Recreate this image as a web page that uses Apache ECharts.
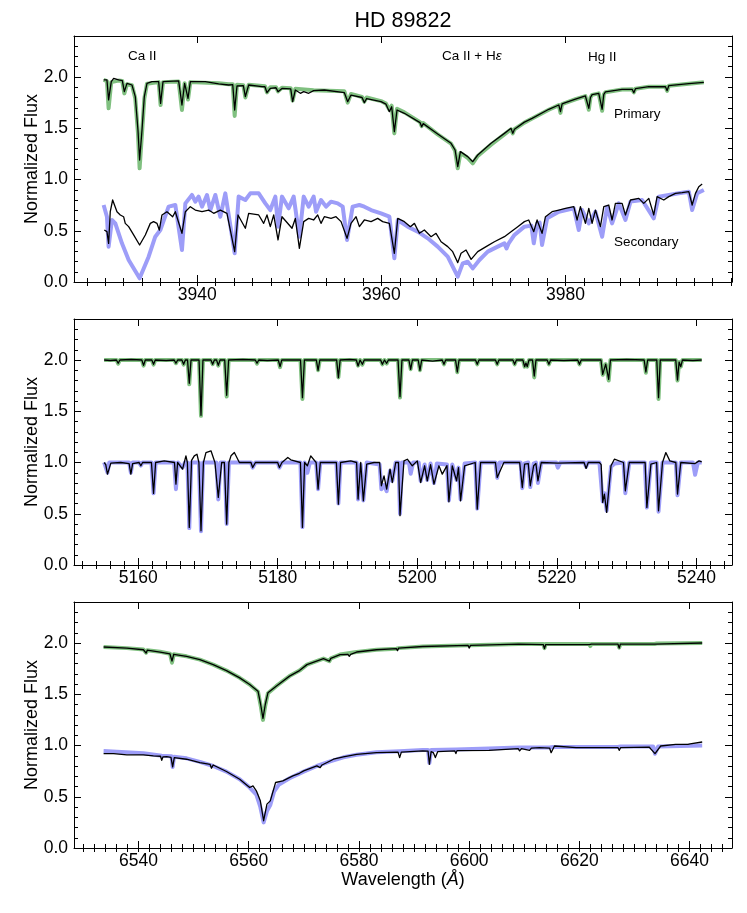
<!DOCTYPE html>
<html>
<head>
<meta charset="utf-8">
<title>HD 89822</title>
<script src="https://cdn.jsdelivr.net/npm/echarts@6/dist/echarts.min.js"></script>
<style>
  html, body { margin: 0; padding: 0; background: #fff; }
  #echarts_box { width: 747px; height: 913px; }
</style>
</head>
<body>
<div id="echarts_box"></div>
<script>
// ---- data: [wavelength (A), normalized flux] ----
// panel 1 : Ca II H & K region
var p1PrimaryModel = [[3929.82,1.971],[3930.18,1.96],[3930.36,1.694],[3930.65,1.95],[3931.45,1.965],[3931.85,1.96],[3932.07,1.84],[3932.36,1.93],[3932.90,1.92],[3933.26,1.79],[3933.55,1.45],[3933.73,1.109],[3933.99,1.45],[3934.24,1.79],[3934.53,1.935],[3935.80,1.95],[3936.01,1.727],[3936.27,1.95],[3937.97,1.955],[3938.33,1.678],[3938.62,1.94],[3938.99,1.78],[3939.24,1.95],[3942.32,1.94],[3943.41,1.93],[3943.85,1.93],[3944.06,1.620],[3944.31,1.925],[3945.0,1.92],[3945.22,1.80],[3945.58,1.925],[3947.35,1.91],[3947.57,1.85],[3947.93,1.90],[3948.55,1.90],[3948.77,1.86],[3949.20,1.895],[3950.15,1.89],[3950.36,1.77],[3950.65,1.885],[3952.64,1.87],[3955.98,1.86],[3956.15,1.86],[3956.34,1.75],[3956.70,1.835],[3957.9,1.805],[3958.15,1.76],[3958.40,1.80],[3959.96,1.765],[3960.5,1.74],[3960.87,1.68],[3961.12,1.72],[3961.41,1.45],[3961.70,1.69],[3962.50,1.655],[3964.2,1.56],[3964.38,1.52],[3964.55,1.55],[3966.12,1.44],[3967.57,1.35],[3968.01,1.28],[3968.30,1.109],[3968.59,1.26],[3969.38,1.21],[3969.93,1.158],[3970.47,1.23],[3971.92,1.34],[3973.37,1.44],[3974.09,1.49],[3974.28,1.45],[3974.46,1.49],[3975.54,1.555],[3976.38,1.595],[3978.19,1.68],[3979.28,1.725],[3979.46,1.65],[3979.64,1.735],[3980.0,1.748],[3981.09,1.783],[3982.17,1.813],[3982.35,1.80],[3982.54,1.68],[3982.72,1.80],[3982.90,1.826],[3983.62,1.84],[3983.80,1.83],[3983.99,1.67],[3984.17,1.83],[3984.35,1.852],[3986.16,1.878],[3987.25,1.88],[3987.43,1.85],[3987.61,1.885],[3989.06,1.905],[3990.87,1.905],[3991.05,1.865],[3991.23,1.914],[3993.41,1.934],[3995.04,1.948]];
var p1PrimaryObs = [[3929.82,1.971],[3930.18,1.971],[3930.36,1.776],[3930.65,1.954],[3930.91,1.987],[3931.45,1.971],[3931.85,1.965],[3932.07,1.857],[3932.36,1.938],[3932.90,1.922],[3933.26,1.808],[3933.55,1.483],[3933.73,1.190],[3933.99,1.483],[3934.24,1.808],[3934.53,1.938],[3935.07,1.954],[3935.80,1.954],[3936.01,1.743],[3936.27,1.954],[3937.97,1.962],[3938.33,1.727],[3938.62,1.938],[3938.99,1.792],[3939.24,1.954],[3940.87,1.954],[3942.32,1.932],[3943.41,1.922],[3943.85,1.925],[3944.06,1.678],[3944.31,1.912],[3945.0,1.915],[3945.22,1.808],[3945.58,1.922],[3947.03,1.906],[3947.35,1.905],[3947.57,1.847],[3947.93,1.889],[3948.55,1.895],[3948.77,1.857],[3949.20,1.889],[3950.15,1.885],[3950.36,1.759],[3950.65,1.873],[3951.20,1.841],[3951.56,1.857],[3952.10,1.841],[3952.64,1.867],[3953.80,1.873],[3955.98,1.847],[3956.15,1.85],[3956.34,1.759],[3956.70,1.824],[3957.9,1.80],[3958.15,1.750],[3958.40,1.79],[3959.96,1.759],[3960.5,1.735],[3960.87,1.662],[3961.12,1.71],[3961.41,1.467],[3961.70,1.678],[3962.50,1.646],[3964.2,1.555],[3964.38,1.515],[3964.55,1.545],[3966.12,1.444],[3967.57,1.353],[3968.01,1.288],[3968.30,1.125],[3968.59,1.272],[3969.38,1.223],[3969.93,1.174],[3970.47,1.239],[3971.92,1.353],[3973.37,1.450],[3974.09,1.499],[3974.28,1.450],[3974.46,1.49],[3975.54,1.56],[3976.38,1.597],[3978.19,1.685],[3979.28,1.727],[3979.46,1.662],[3979.64,1.737],[3980.0,1.750],[3981.09,1.785],[3982.17,1.815],[3982.35,1.80],[3982.54,1.694],[3982.72,1.80],[3982.90,1.828],[3983.62,1.841],[3983.80,1.83],[3983.99,1.685],[3984.17,1.83],[3984.35,1.854],[3986.16,1.880],[3987.25,1.88],[3987.43,1.847],[3987.61,1.886],[3989.06,1.906],[3990.87,1.905],[3991.05,1.867],[3991.23,1.915],[3993.41,1.935],[3995.04,1.948]];
var p1SecondaryModel = [[3929.82,0.751],[3930.18,0.637],[3930.36,0.345],[3930.72,0.605],[3931.09,0.572],[3931.81,0.377],[3932.54,0.215],[3933.73,0.036],[3934.71,0.247],[3935.43,0.442],[3935.98,0.507],[3936.88,0.735],[3937.61,0.751],[3938.33,0.312],[3938.70,0.767],[3939.42,0.849],[3939.78,0.784],[3940.14,0.833],[3940.51,0.735],[3941.05,0.849],[3941.41,0.702],[3941.96,0.849],[3942.50,0.637],[3943.04,0.865],[3944.06,0.280],[3944.49,0.833],[3945.22,0.800],[3945.76,0.865],[3946.67,0.865],[3947.39,0.767],[3947.93,0.702],[3948.48,0.833],[3948.77,0.540],[3949.20,0.833],[3949.93,0.719],[3950.47,0.833],[3951.09,0.442],[3951.56,0.833],[3952.10,0.735],[3952.64,0.833],[3952.90,0.686],[3953.44,0.800],[3953.99,0.735],[3954.53,0.784],[3955.25,0.767],[3955.80,0.735],[3956.27,0.410],[3956.88,0.735],[3957.61,0.751],[3958.15,0.735],[3958.88,0.702],[3959.96,0.670],[3960.87,0.637],[3961.41,0.231],[3961.78,0.605],[3962.86,0.540],[3963.95,0.491],[3965.04,0.426],[3966.12,0.345],[3967.21,0.247],[3968.30,0.052],[3968.84,0.182],[3969.38,0.198],[3969.93,0.133],[3970.65,0.215],[3971.56,0.296],[3972.64,0.345],[3973.37,0.377],[3973.60,0.328],[3973.85,0.38],[3974.46,0.459],[3975.54,0.540],[3976.3,0.55],[3976.56,0.377],[3976.92,0.572],[3977.2,0.58],[3977.46,0.361],[3978.01,0.621],[3979.28,0.686],[3980.91,0.719],[3981.45,0.507],[3981.81,0.702],[3982.54,0.572],[3983.26,0.686],[3983.99,0.442],[3984.53,0.735],[3985.07,0.572],[3985.80,0.767],[3986.52,0.605],[3987.07,0.784],[3988.33,0.800],[3989.60,0.621],[3990.14,0.833],[3991.23,0.849],[3992.32,0.865],[3993.41,0.881],[3993.77,0.702],[3994.31,0.865],[3995.04,0.898]];
var p1SecondaryObs = [[3929.89,0.507],[3930.18,0.491],[3930.36,0.377],[3930.54,0.686],[3930.80,0.800],[3931.01,0.784],[3931.27,0.686],[3931.63,0.654],[3931.99,0.637],[3932.17,0.572],[3932.54,0.540],[3933.08,0.459],[3933.73,0.361],[3934.35,0.459],[3934.89,0.572],[3935.25,0.589],[3935.62,0.572],[3935.87,0.507],[3936.16,0.654],[3936.70,0.686],[3937.32,0.637],[3937.61,0.686],[3938.33,0.475],[3938.70,0.686],[3939.24,0.735],[3939.78,0.702],[3940.51,0.686],[3941.23,0.702],[3941.78,0.670],[3942.50,0.702],[3943.22,0.670],[3944.06,0.296],[3944.42,0.654],[3945.22,0.524],[3945.58,0.670],[3946.67,0.654],[3947.21,0.572],[3947.57,0.654],[3947.93,0.540],[3948.30,0.654],[3948.77,0.410],[3949.20,0.637],[3950.29,0.524],[3950.65,0.62],[3951.09,0.328],[3951.56,0.589],[3952.10,0.621],[3952.64,0.605],[3953.08,0.654],[3953.44,0.572],[3953.80,0.637],[3954.53,0.621],[3955.07,0.637],[3955.62,0.589],[3956.27,0.426],[3956.70,0.572],[3957.25,0.637],[3957.61,0.540],[3958.15,0.605],[3958.88,0.589],[3959.60,0.621],[3960.14,0.589],[3960.87,0.572],[3961.41,0.280],[3961.78,0.621],[3962.50,0.589],[3963.15,0.540],[3963.59,0.572],[3964.13,0.475],[3964.67,0.507],[3965.40,0.442],[3965.94,0.475],[3966.49,0.393],[3967.21,0.345],[3967.75,0.296],[3968.30,0.189],[3968.66,0.280],[3969.20,0.312],[3969.75,0.221],[3970.47,0.296],[3971.38,0.345],[3972.28,0.393],[3973.37,0.442],[3974.09,0.491],[3974.82,0.540],[3975.54,0.589],[3976.01,0.605],[3976.56,0.491],[3976.92,0.605],[3977.46,0.475],[3977.83,0.637],[3978.55,0.686],[3979.28,0.702],[3980.00,0.719],[3980.91,0.735],[3981.27,0.605],[3981.63,0.735],[3982.17,0.572],[3982.54,0.719],[3982.90,0.572],[3983.26,0.702],[3983.80,0.540],[3984.17,0.735],[3984.71,0.751],[3985.07,0.605],[3985.43,0.767],[3986.16,0.767],[3986.52,0.654],[3987.07,0.800],[3987.97,0.816],[3988.51,0.767],[3989.06,0.816],[3989.60,0.654],[3989.96,0.833],[3990.69,0.800],[3991.23,0.833],[3991.96,0.865],[3992.68,0.872],[3993.41,0.881],[3993.77,0.751],[3994.13,0.865],[3994.49,0.930],[3994.86,0.956]];

// panel 2 : Mg b region
var p2PrimaryModel = [[5155.12,2.0],[5156.88,2.0],[5157.13,1.965],[5157.38,2.0],[5160.52,2.0],[5160.77,1.945],[5161.02,2.0],[5161.95,2.0],[5162.20,1.955],[5162.45,2.0],[5165.16,2.0],[5165.41,1.968],[5165.66,2.0],[5166.26,2.0],[5166.51,1.955],[5166.76,2.0],[5167.07,2.0],[5167.32,1.763],[5167.57,2.0],[5168.72,2.0],[5169.0,1.455],[5169.28,2.0],[5170.42,2.0],[5170.67,1.96],[5170.92,2.0],[5171.23,2.0],[5171.48,1.945],[5171.73,2.0],[5172.4,2.0],[5172.68,1.643],[5172.96,2.0],[5176.78,2.0],[5177.03,1.965],[5177.28,2.0],[5180.08,2.0],[5180.33,1.93],[5180.58,2.0],[5183.26,2.0],[5183.54,1.62],[5183.82,2.0],[5185.53,2.0],[5185.78,1.90],[5186.03,2.0],[5188.44,2.0],[5188.69,1.83],[5188.94,2.0],[5191.26,2.0],[5191.51,1.945],[5191.8,2.0],[5192.13,1.955],[5192.4,2.0],[5194.74,2.0],[5194.99,1.958],[5195.3,2.0],[5195.61,1.965],[5195.86,2.0],[5197.24,2.0],[5197.52,1.633],[5197.8,2.0],[5198.8,2.0],[5199.05,1.91],[5199.3,2.0],[5200.13,2.0],[5200.38,1.90],[5200.63,2.0],[5203.57,2.0],[5203.82,1.958],[5204.07,2.0],[5205.48,2.0],[5205.73,1.88],[5205.98,2.0],[5208.34,2.0],[5208.59,1.958],[5208.84,2.0],[5211.2,2.0],[5211.45,1.958],[5211.7,2.0],[5213.7,2.0],[5213.95,1.958],[5214.2,2.0],[5215.13,2.0],[5215.38,1.935],[5215.57,1.97],[5215.76,1.935],[5216.0,2.0],[5216.51,2.0],[5216.76,1.83],[5217.01,2.0],[5218.61,2.0],[5218.86,1.958],[5219.11,2.0],[5222.99,2.0],[5223.24,1.958],[5223.49,2.0],[5226.32,2.0],[5226.57,1.855],[5227.0,1.96],[5227.43,1.80],[5227.68,2.0],[5232.51,2.0],[5232.76,1.875],[5233.01,2.0],[5234.32,2.0],[5234.57,1.62],[5234.82,2.0],[5237.04,2.0],[5237.29,1.80],[5237.52,1.98],[5237.76,1.935],[5238.0,2.0],[5240.76,2.0]];
var p2PrimaryObs = [[5155.12,2.0],[5156.0,1.995],[5156.88,2.0],[5157.13,1.968],[5157.38,2.0],[5159.0,2.005],[5160.52,2.0],[5160.77,1.948],[5161.02,2.0],[5161.95,2.0],[5162.20,1.958],[5162.45,2.0],[5164.0,1.995],[5165.16,2.0],[5165.41,1.968],[5165.66,2.0],[5166.26,2.0],[5166.51,1.958],[5166.76,2.0],[5167.07,2.0],[5167.32,1.773],[5167.57,2.0],[5168.72,2.0],[5169.0,1.461],[5169.28,2.0],[5170.42,2.0],[5170.67,1.958],[5170.92,2.0],[5171.23,2.0],[5171.48,1.948],[5171.73,2.0],[5172.4,2.0],[5172.68,1.656],[5172.96,2.0],[5175.0,2.005],[5176.78,2.0],[5177.03,1.968],[5177.28,2.0],[5178.5,1.995],[5180.08,2.0],[5180.33,1.935],[5180.58,2.0],[5183.26,2.0],[5183.54,1.633],[5183.82,2.0],[5185.53,2.0],[5185.78,1.899],[5186.03,2.0],[5188.44,2.0],[5188.69,1.828],[5188.94,2.0],[5190.3,2.005],[5191.26,2.0],[5191.51,1.942],[5191.8,2.0],[5192.13,1.958],[5192.4,2.0],[5194.74,2.0],[5194.99,1.958],[5195.3,2.0],[5195.61,1.968],[5195.86,2.0],[5197.24,2.0],[5197.52,1.643],[5197.8,2.0],[5198.8,2.0],[5199.05,1.909],[5199.3,2.0],[5200.13,2.0],[5200.38,1.899],[5200.63,2.0],[5202.2,1.99],[5203.57,2.0],[5203.82,1.958],[5204.07,2.0],[5205.48,2.0],[5205.73,1.883],[5205.98,2.0],[5208.34,2.0],[5208.59,1.958],[5208.84,2.0],[5211.2,2.0],[5211.45,1.958],[5211.7,2.0],[5213.7,2.0],[5213.95,1.958],[5214.2,2.0],[5215.13,2.0],[5215.38,1.935],[5215.57,1.97],[5215.76,1.935],[5216.0,2.0],[5216.51,2.0],[5216.76,1.844],[5217.01,2.0],[5218.61,2.0],[5218.86,1.958],[5219.11,2.0],[5221.0,1.995],[5222.99,2.0],[5223.24,1.958],[5223.49,2.0],[5226.32,2.0],[5226.57,1.860],[5227.0,1.96],[5227.43,1.812],[5227.68,2.0],[5230.0,2.005],[5232.51,2.0],[5232.76,1.883],[5233.01,2.0],[5234.32,2.0],[5234.57,1.633],[5234.82,2.0],[5237.04,2.0],[5237.29,1.805],[5237.52,1.98],[5237.76,1.935],[5238.0,2.0],[5239.5,1.995],[5240.76,2.0]];
var p2SecondaryModel = [[5155.12,1.0],[5155.35,0.99],[5155.60,0.90],[5155.85,1.0],[5158.7,1.0],[5158.95,0.90],[5159.2,1.0],[5160.13,1.0],[5160.38,0.97],[5160.63,1.0],[5161.9,1.0],[5162.20,0.70],[5162.5,1.0],[5165.15,1.0],[5165.41,0.74],[5165.7,1.0],[5166.36,0.95],[5166.7,1.0],[5167.05,1.0],[5167.32,0.36],[5167.6,1.0],[5168.7,1.0],[5169.0,0.33],[5169.3,1.0],[5171.2,1.0],[5171.48,0.64],[5171.8,1.0],[5172.4,1.0],[5172.68,0.40],[5173.0,1.0],[5176.16,1.0],[5176.41,0.95],[5176.8,1.0],[5179.99,1.0],[5180.24,0.95],[5180.6,1.0],[5183.25,1.0],[5183.54,0.37],[5183.85,1.0],[5184.25,0.90],[5184.6,1.0],[5185.5,1.0],[5185.78,0.74],[5186.1,1.0],[5188.4,1.0],[5188.69,0.60],[5189.0,1.0],[5191.3,1.0],[5191.51,0.64],[5191.89,0.98],[5192.27,0.63],[5192.75,1.0],[5194.6,0.98],[5194.85,0.74],[5195.23,0.78],[5195.61,0.72],[5196.09,0.92],[5196.42,0.82],[5196.90,1.0],[5197.30,1.0],[5197.52,0.50],[5197.8,1.0],[5198.8,1.0],[5199.05,0.89],[5199.4,1.0],[5200.2,1.0],[5200.48,0.82],[5201.05,0.98],[5201.43,0.83],[5201.9,0.99],[5202.39,0.80],[5202.8,0.99],[5204.25,0.98],[5204.53,0.63],[5205.01,0.98],[5205.63,0.83],[5205.9,0.95],[5206.20,0.64],[5206.78,0.99],[5208.3,1.0],[5208.59,0.55],[5209.07,1.0],[5211.2,1.0],[5211.45,0.85],[5211.8,1.0],[5214.8,1.0],[5215.05,0.75],[5215.4,0.99],[5215.9,1.0],[5216.19,0.76],[5216.67,0.99],[5217.0,1.0],[5217.29,0.80],[5217.76,1.0],[5219.89,1.0],[5220.14,0.95],[5220.5,1.0],[5223.94,1.0],[5224.19,0.96],[5224.44,1.0],[5226.10,1.0],[5226.57,0.62],[5226.81,0.70],[5227.14,0.53],[5227.76,0.96],[5228.3,0.99],[5229.55,1.0],[5229.81,0.70],[5230.38,1.0],[5232.6,1.0],[5232.90,0.56],[5233.48,1.0],[5234.3,1.0],[5234.57,0.52],[5235.14,1.0],[5237.05,1.0],[5237.29,0.68],[5237.76,1.0],[5239.5,1.0],[5239.81,0.88],[5240.2,1.0],[5240.76,1.0]];
var p2SecondaryObs = [[5155.12,1.0],[5155.35,0.98],[5155.60,0.886],[5156.08,0.994],[5157.5,1.0],[5158.7,0.99],[5158.95,0.886],[5159.2,0.99],[5160.13,1.0],[5160.38,0.968],[5160.63,1.0],[5161.9,1.0],[5162.20,0.698],[5162.5,1.0],[5163.73,1.016],[5165.2,1.0],[5165.41,0.789],[5165.65,1.0],[5165.89,0.994],[5166.36,0.935],[5166.84,1.065],[5167.05,1.0],[5167.32,0.367],[5167.65,1.02],[5168.04,1.065],[5168.42,1.081],[5168.7,1.0],[5169.00,0.334],[5169.35,1.0],[5169.71,1.097],[5170.43,1.114],[5171.00,1.0],[5171.48,0.659],[5171.96,1.0],[5172.35,1.0],[5172.68,0.399],[5173.0,1.0],[5173.30,1.065],[5173.78,1.097],[5174.50,1.0],[5176.16,1.0],[5176.41,0.951],[5176.8,1.0],[5179.99,1.0],[5180.24,0.951],[5180.6,1.0],[5181.44,1.049],[5181.87,1.026],[5183.25,1.0],[5183.54,0.367],[5183.85,1.0],[5184.25,0.968],[5184.73,1.065],[5185.5,1.0],[5185.78,0.740],[5186.1,1.0],[5186.40,1.0],[5188.4,1.0],[5188.69,0.594],[5189.0,1.0],[5190.46,1.016],[5191.3,1.0],[5191.51,0.643],[5191.89,1.0],[5192.27,0.627],[5192.75,0.984],[5193.80,1.0],[5194.6,1.0],[5194.85,0.773],[5195.23,0.870],[5195.61,0.740],[5196.09,0.935],[5196.42,0.805],[5196.90,1.0],[5197.30,1.0],[5197.52,0.481],[5198.09,1.016],[5198.57,1.032],[5199.28,0.968],[5200.00,1.016],[5200.48,0.805],[5201.05,0.968],[5201.43,0.821],[5201.9,0.98],[5202.39,0.789],[5203.10,0.968],[5203.58,0.886],[5204.25,0.97],[5204.53,0.617],[5205.01,0.968],[5205.63,0.821],[5205.9,0.95],[5206.20,0.627],[5206.78,0.968],[5208.3,1.0],[5208.59,0.545],[5209.07,1.0],[5211.2,1.0],[5211.45,0.854],[5212.41,1.0],[5214.67,1.0],[5215.05,0.756],[5215.38,0.984],[5215.9,0.99],[5216.19,0.773],[5216.67,0.968],[5217.0,0.99],[5217.29,0.821],[5217.76,1.0],[5220.14,0.994],[5223.9,1.0],[5224.19,0.942],[5224.5,1.0],[5226.10,1.0],[5226.35,0.98],[5226.57,0.610],[5226.81,0.692],[5227.14,0.513],[5227.76,0.968],[5228.24,1.032],[5229.55,1.0],[5229.81,0.724],[5230.38,1.0],[5232.29,1.0],[5232.65,1.0],[5232.90,0.562],[5233.48,0.984],[5234.3,1.0],[5234.57,0.529],[5235.14,1.0],[5235.62,1.097],[5236.19,1.016],[5237.05,1.0],[5237.29,0.692],[5237.76,1.0],[5239.81,0.99],[5240.38,1.016],[5240.76,1.006]];

// panel 3 : H-alpha region
var p3PrimaryModel = [[6533.67,1.961],[6537.89,1.950],[6540.90,1.937],[6541.39,1.905],[6541.6,1.93],[6543.92,1.915],[6545.72,1.895],[6546.08,1.808],[6546.4,1.89],[6548.73,1.870],[6551.14,1.838],[6553.55,1.789],[6555.96,1.731],[6558.37,1.660],[6560.18,1.595],[6561.69,1.525],[6562.17,1.39],[6562.59,1.25],[6563.01,1.39],[6563.49,1.51],[6564.99,1.579],[6567.41,1.677],[6569.22,1.731],[6570.57,1.789],[6573.57,1.848],[6574.65,1.823],[6574.9,1.85],[6576.58,1.887],[6579.58,1.912],[6583.18,1.934],[6586.79,1.945],[6587.0,1.93],[6587.2,1.95],[6591.59,1.966],[6599.8,1.977],[6600.0,1.96],[6600.25,1.977],[6609.01,1.990],[6613.45,1.99],[6613.67,1.95],[6613.9,1.99],[6621.8,1.99],[6621.99,1.97],[6622.2,1.99],[6627.0,1.99],[6627.23,1.955],[6627.45,1.99],[6633.65,1.99],[6633.86,1.977],[6634.05,1.995],[6642.29,2.0]];
var p3PrimaryObs = [[6533.67,1.961],[6537.89,1.950],[6540.90,1.934],[6541.39,1.902],[6541.6,1.93],[6543.92,1.912],[6545.72,1.893],[6546.08,1.823],[6546.4,1.89],[6548.73,1.870],[6551.14,1.838],[6553.55,1.789],[6555.96,1.731],[6558.37,1.660],[6560.18,1.595],[6561.69,1.530],[6562.17,1.400],[6562.59,1.264],[6563.01,1.400],[6563.49,1.514],[6564.99,1.579],[6567.41,1.677],[6569.22,1.731],[6570.57,1.789],[6573.57,1.848],[6574.65,1.823],[6574.9,1.85],[6576.58,1.887],[6578.0,1.89],[6578.26,1.870],[6578.5,1.89],[6579.58,1.912],[6583.18,1.934],[6586.79,1.945],[6587.0,1.925],[6587.2,1.95],[6591.59,1.966],[6599.8,1.977],[6600.0,1.950],[6600.25,1.977],[6609.01,1.990],[6613.45,1.985],[6613.67,1.945],[6613.9,1.985],[6621.8,1.985],[6621.99,1.966],[6622.2,1.99],[6627.0,1.99],[6627.23,1.950],[6627.45,1.99],[6633.7,1.99],[6633.86,1.977],[6634.05,1.995],[6642.29,2.0]];
var p3SecondaryModel = [[6533.67,0.947],[6540.90,0.925],[6544.22,0.90],[6546.0,0.895],[6546.20,0.79],[6546.45,0.89],[6548.73,0.875],[6551.14,0.84],[6553.55,0.80],[6555.96,0.745],[6558.37,0.67],[6560.18,0.59],[6561.39,0.52],[6562.11,0.40],[6562.71,0.25],[6563.31,0.36],[6563.92,0.42],[6564.6,0.55],[6565.5,0.62],[6567.41,0.68],[6569.97,0.745],[6572.37,0.80],[6574.77,0.845],[6577.18,0.885],[6579.58,0.91],[6583.18,0.935],[6587.39,0.945],[6591.59,0.955],[6592.55,0.955],[6592.79,0.83],[6593.1,0.955],[6597.60,0.96],[6603.60,0.97],[6609.01,0.98],[6614.6,0.98],[6614.88,0.97],[6615.3,0.985],[6627.0,0.985],[6627.23,0.97],[6627.5,0.99],[6633.4,0.99],[6633.73,0.92],[6634.3,0.99],[6642.29,1.0]];
var p3SecondaryObs = [[6533.67,0.921],[6535.48,0.921],[6537.89,0.908],[6540.90,0.908],[6542.71,0.898],[6544.0,0.895],[6544.22,0.856],[6544.45,0.89],[6545.12,0.891],[6545.9,0.885],[6546.20,0.791],[6546.5,0.882],[6548.73,0.866],[6551.14,0.833],[6553.0,0.815],[6553.25,0.778],[6553.55,0.810],[6555.96,0.746],[6558.37,0.671],[6560.18,0.590],[6560.78,0.606],[6561.39,0.558],[6562.11,0.460],[6562.71,0.266],[6563.31,0.428],[6563.92,0.460],[6564.88,0.639],[6566.20,0.655],[6568.01,0.703],[6569.22,0.729],[6569.37,0.720],[6569.97,0.752],[6572.37,0.801],[6572.97,0.784],[6573.3,0.81],[6574.77,0.849],[6575.0,0.83],[6575.38,0.866],[6577.18,0.888],[6579.58,0.914],[6583.18,0.930],[6587.1,0.935],[6587.39,0.882],[6587.7,0.935],[6591.59,0.947],[6592.55,0.945],[6592.79,0.817],[6593.1,0.94],[6593.51,0.930],[6593.87,0.882],[6594.29,0.940],[6597.4,0.947],[6597.60,0.921],[6597.8,0.95],[6603.60,0.953],[6608.9,0.97],[6609.16,0.947],[6609.5,0.97],[6610.96,0.953],[6611.3,0.975],[6612.77,0.979],[6614.6,0.975],[6614.88,0.930],[6615.48,0.995],[6619.40,0.979],[6627.0,0.98],[6627.23,0.953],[6627.5,0.98],[6632.65,0.985],[6633.73,0.921],[6634.76,0.995],[6637.47,1.011],[6639.7,1.01],[6639.88,0.995],[6640.1,1.015],[6642.29,1.034]];

// axis limits and tick labels
var p1Range = [3926.6, 3998.1];
var p2Range = [5150.8, 5245.1];
var p3Range = [6528.3, 6647.7];
var p1Ticks = [3940, 3960, 3980];
var p2Ticks = [5160, 5180, 5200, 5220, 5240];
var p3Ticks = [6540, 6560, 6580, 6600, 6620, 6640];
var fluxRange = [0, 2.4];
var fluxTicks = [0, 0.5, 1.0, 1.5, 2.0];

// minor tick positions (every 2 A, every 0.1 in flux)
function steps(a, b, s) {
    var out = [];
    for (var v = a; v <= b + 1e-9; v += s) out.push(Math.round(v * 100) / 100);
    return out;
}
var p1Minor = steps(3928, 3998, 2);
var p2Minor = steps(5152, 5244, 2);
var p3Minor = steps(6530, 6646, 2);
var fluxMinor = steps(0, 2.3, 0.1);

var FONT = 'Liberation Sans, Arial, Helvetica, sans-serif';
var gridTops = [36, 319, 602];

var xAxisList = [], yAxisList = [];
function addAxes(g, range, major, minor, xName) {
    ['bottom', 'top'].forEach(function (pos) {
        xAxisList.push({
            type: 'value', gridIndex: g, position: pos, min: range[0], max: range[1],
            axisLine: { show: true, onZero: false, lineStyle: { color: '#000', width: 1 } },
            axisTick: { show: true, inside: true, length: 7, customValues: major, lineStyle: { color: '#000', width: 1 } },
            axisLabel: { show: pos === 'bottom', customValues: major, color: '#000', fontSize: 17.5, fontFamily: FONT, margin: 4,
                formatter: function (v) { return String(v); } },
            splitLine: { show: false },
            name: (pos === 'bottom' && xName) ? xName : '',
            nameLocation: 'middle', nameGap: 23, nameMoveOverlap: false,
            nameTextStyle: { color: '#000', fontSize: 18, fontFamily: FONT, rich: { i: { fontStyle: 'italic', fontSize: 18, fontFamily: FONT, color: '#000' } } }
        });
        xAxisList.push({
            type: 'value', gridIndex: g, position: pos, min: range[0], max: range[1],
            axisLine: { show: false },
            axisTick: { show: true, inside: true, length: 4, customValues: minor, lineStyle: { color: '#000', width: 1 } },
            axisLabel: { show: false }, splitLine: { show: false }
        });
    });
    ['left', 'right'].forEach(function (pos) {
        yAxisList.push({
            type: 'value', gridIndex: g, position: pos, min: fluxRange[0], max: fluxRange[1],
            axisLine: { show: true, onZero: false, lineStyle: { color: '#000', width: 1 } },
            axisTick: { show: true, inside: true, length: 7, customValues: fluxTicks, lineStyle: { color: '#000', width: 1 } },
            axisLabel: { show: pos === 'left', customValues: fluxTicks, color: '#000', fontSize: 17.5, fontFamily: FONT, margin: 6,
                formatter: function (v) { return v.toFixed(1); } },
            splitLine: { show: false },
            name: pos === 'left' ? 'Normalized Flux' : '',
            nameLocation: 'middle', nameGap: 33, nameMoveOverlap: false,
            nameTextStyle: { color: '#000', fontSize: 18, fontFamily: FONT }
        });
        yAxisList.push({
            type: 'value', gridIndex: g, position: pos, min: fluxRange[0], max: fluxRange[1],
            axisLine: { show: false },
            axisTick: { show: true, inside: true, length: 4, customValues: fluxMinor, lineStyle: { color: '#000', width: 1 } },
            axisLabel: { show: false }, splitLine: { show: false }
        });
    });
}
addAxes(0, p1Range, p1Ticks, p1Minor, null);
addAxes(1, p2Range, p2Ticks, p2Minor, null);
addAxes(2, p3Range, p3Ticks, p3Minor, 'Wavelength ({i|Å})');

var seriesList = [];
function addSpectra(g, priModel, priObs, secModel, secObs) {
    var ax = g * 4;
    [[priModel, '#80c080', 4], [secModel, '#9d9df8', 4], [priObs, '#000', 1.3], [secObs, '#000', 1.3]].forEach(function (s) {
        seriesList.push({
            type: 'line', xAxisIndex: ax, yAxisIndex: ax, data: s[0],
            showSymbol: false, symbol: 'none', silent: true,
            lineStyle: { color: s[1], width: s[2], join: 'round' }
        });
    });
}
addSpectra(0, p1PrimaryModel, p1PrimaryObs, p1SecondaryModel, p1SecondaryObs);
addSpectra(1, p2PrimaryModel, p2PrimaryObs, p2SecondaryModel, p2SecondaryObs);
addSpectra(2, p3PrimaryModel, p3PrimaryObs, p3SecondaryModel, p3SecondaryObs);

function label(text, x, y, size, align) {
    return {
        type: 'text', x: x, y: y, z: 100,
        style: {
            text: text, fill: '#000', fontSize: size, fontFamily: FONT,
            align: align || 'left', verticalAlign: 'middle',
            rich: { i: { fontStyle: 'italic', fontSize: size, fontFamily: FONT, fill: '#000' } }
        }
    };
}

var mycharts = echarts.init(document.getElementById('echarts_box'));
var optionObj = {
    animation: false,
    backgroundColor: '#fff',
    grid: gridTops.map(function (t) { return { left: 74, right: 15, top: t, height: 246, containLabel: false }; }),
    xAxis: xAxisList,
    yAxis: yAxisList,
    series: seriesList,
    graphic: [
        label('HD 89822', 403, 21, 21.5, 'center'),
        label('Ca II', 128, 56, 13.5),
        label('Ca II + H{i|ε}', 442, 56, 13.5),
        label('Hg II', 588, 57, 13.5),
        label('Primary', 614, 114, 13.5),
        label('Secondary', 614, 242, 13.5)
    ]
};
mycharts.setOption(optionObj);
</script>
</body>
</html>
